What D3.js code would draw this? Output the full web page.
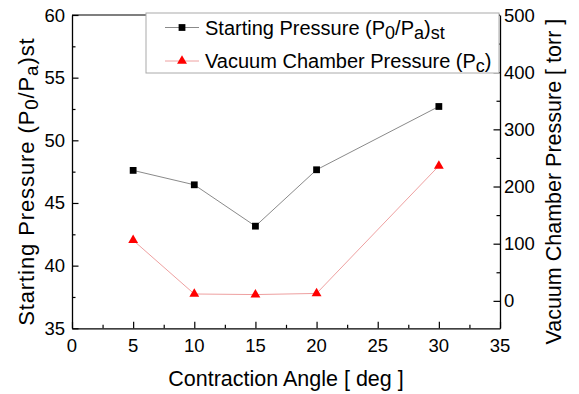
<!DOCTYPE html>
<html>
<head>
<meta charset="utf-8">
<script src="https://cdn.jsdelivr.net/npm/d3@7"></script>
<style>
  html, body { margin: 0; padding: 0; background: #fff; }
  svg { display: block; font-family: "Liberation Sans", Arial, sans-serif; }
</style>
</head>
<body>
<svg id="chart" width="579" height="394"></svg>
<script>
// Contraction angle (deg)
const angles = [5, 10, 15, 20, 30];
// Starting pressure ratio (P0/Pa)st
const startingPressure = [47.6, 46.45, 43.15, 47.65, 52.7];
// Vacuum chamber pressure Pc (torr)
const chamberPressure = [106, 12, 11, 13, 236];

const xTicks = [0, 5, 10, 15, 20, 25, 30, 35];
const leftTicks = [35, 40, 45, 50, 55, 60];
const rightTicks = [0, 100, 200, 300, 400, 500];

const svg = d3.select("#chart");
const L = 72, R = 500, T = 15, B = 328.3;

const x = d3.scaleLinear().domain([0, 35]).range([L, R]);
const yL = d3.scaleLinear().domain([35, 60]).range([B, T]);
const yR = d3.scaleLinear().domain([-48, 500]).range([B, T]);

const tickFont = 18.5, titleFont = 21.5, legendFont = 20;

// frame top line
svg.append("line").attr("x1", L).attr("x2", R).attr("y1", T).attr("y2", T)
  .attr("stroke", "#555").attr("stroke-width", 1.3);

// bottom axis (ticks pointing inward)
const gx = svg.append("g").attr("transform", `translate(0,${B})`);
gx.call(d3.axisBottom(x).tickValues(d3.range(0, 35.01, 2.5)).tickSize(0).tickFormat(""));
gx.selectAll(".tick line").remove();
gx.select(".domain").attr("stroke", "#000").attr("stroke-width", 1.3);
gx.selectAll(".tick").append("line")
  .attr("y2", d => (d % 5 === 0 ? -6.5 : -3.5)).attr("stroke", "#000").attr("stroke-width", 1.2);
svg.append("g").selectAll("text").data(xTicks).join("text")
  .attr("x", d => x(d)).attr("y", B + 23.5)
  .attr("text-anchor", "middle").attr("font-size", tickFont).attr("fill", "#000")
  .text(d => d);

// left axis
const gl = svg.append("g").attr("transform", `translate(${L},0)`);
gl.call(d3.axisLeft(yL).tickValues(d3.range(35, 60.01, 2.5)).tickSize(0).tickFormat(""));
gl.selectAll(".tick line").remove();
gl.select(".domain").attr("stroke", "#000").attr("stroke-width", 1.3);
gl.selectAll(".tick").append("line")
  .attr("x2", d => (d % 5 === 0 ? 6.5 : 3.5)).attr("stroke", "#000").attr("stroke-width", 1.2);
svg.append("g").selectAll("text").data(leftTicks).join("text")
  .attr("x", L - 7).attr("y", d => yL(d) + 6.5)
  .attr("text-anchor", "end").attr("font-size", tickFont).attr("fill", "#000")
  .text(d => d);

// right axis
const gr = svg.append("g").attr("transform", `translate(${R},0)`);
gr.call(d3.axisRight(yR).tickValues(d3.range(0, 500.01, 50)).tickSize(0).tickFormat(""));
gr.selectAll(".tick line").remove();
gr.select(".domain").attr("stroke", "#000").attr("stroke-width", 1.3);
gr.selectAll(".tick").append("line")
  .attr("x2", d => (d % 100 === 0 ? -6.5 : -3.5)).attr("stroke", "#000").attr("stroke-width", 1.2);
svg.append("g").selectAll("text").data(rightTicks).join("text")
  .attr("x", R + 4).attr("y", d => yR(d) + 6.5)
  .attr("text-anchor", "start").attr("font-size", tickFont).attr("fill", "#000")
  .text(d => d);

// axis titles
svg.append("text").attr("x", (L + R) / 2).attr("y", 386)
  .attr("text-anchor", "middle").attr("font-size", titleFont).attr("fill", "#000")
  .text("Contraction Angle [ deg ]");

const lt = svg.append("text")
  .attr("transform", `translate(34,${(T + B) / 2 + 10}) rotate(-90)`)
  .attr("text-anchor", "middle").attr("font-size", 22).attr("letter-spacing", 0.9)
  .attr("fill", "#000");
lt.append("tspan").text("Starting Pressure (P");
lt.append("tspan").attr("dy", 4).attr("font-size", 22 * 0.85).text("0");
lt.append("tspan").attr("dy", -4).text("/P");
lt.append("tspan").attr("dy", 4).attr("font-size", 22 * 0.85).text("a");
lt.append("tspan").attr("dy", -4).text(")st");

svg.append("text")
  .attr("transform", `translate(561,${(T + B) / 2 + 10}) rotate(-90)`)
  .attr("text-anchor", "middle").attr("font-size", titleFont).attr("fill", "#000")
  .text("Vacuum Chamber Pressure [ torr ]");

// series lines
const lineL = d3.line().x((d, i) => x(angles[i])).y(d => yL(d));
const lineR = d3.line().x((d, i) => x(angles[i])).y(d => yR(d));

svg.append("path").datum(startingPressure).attr("d", lineL)
  .attr("fill", "none").attr("stroke", "#8a8a8a").attr("stroke-width", 1);
svg.append("path").datum(chamberPressure).attr("d", lineR)
  .attr("fill", "none").attr("stroke", "#eea0a0").attr("stroke-width", 1);

const sq = d3.symbol().type(d3.symbolSquare).size(46);
const tri = d3.symbol().type(d3.symbolTriangle).size(42);

svg.append("g").selectAll("path").data(startingPressure).join("path")
  .attr("transform", (d, i) => `translate(${x(angles[i])},${yL(d)})`)
  .attr("d", sq).attr("fill", "#000");
svg.append("g").selectAll("path").data(chamberPressure).join("path")
  .attr("transform", (d, i) => `translate(${x(angles[i])},${yR(d)})`)
  .attr("d", tri).attr("fill", "#f00");

// legend
const lg = svg.append("g");
lg.append("rect").attr("x", 146).attr("y", 13).attr("width", 353).attr("height", 60)
  .attr("fill", "#fff").attr("stroke", "#aaa").attr("stroke-width", 1);

lg.append("line").attr("x1", 165).attr("x2", 199).attr("y1", 27.5).attr("y2", 27.5)
  .attr("stroke", "#8a8a8a");
lg.append("path").attr("transform", "translate(182,27.5)").attr("d", sq).attr("fill", "#000");
const t1 = lg.append("text").attr("x", 205).attr("y", 34.5).attr("font-size", legendFont).attr("fill", "#000");
t1.append("tspan").text("Starting Pressure (P");
t1.append("tspan").attr("dy", 4).attr("font-size", legendFont * 0.9).text("0");
t1.append("tspan").attr("dy", -4).text("/P");
t1.append("tspan").attr("dy", 4).attr("font-size", legendFont * 0.9).text("a");
t1.append("tspan").attr("dy", -4).text(")");
t1.append("tspan").attr("dy", 4).attr("font-size", legendFont * 0.9).text("st");

lg.append("line").attr("x1", 165).attr("x2", 199).attr("y1", 61).attr("y2", 61)
  .attr("stroke", "#eea0a0");
lg.append("path").attr("transform", "translate(182,61)").attr("d", tri).attr("fill", "#f00");
const t2 = lg.append("text").attr("x", 205).attr("y", 67.5).attr("font-size", legendFont).attr("fill", "#000");
t2.append("tspan").text("Vacuum Chamber Pressure (P");
t2.append("tspan").attr("dy", 4).attr("font-size", legendFont * 0.9).text("c");
t2.append("tspan").attr("dy", -4).text(")");
</script>
</body>
</html>
